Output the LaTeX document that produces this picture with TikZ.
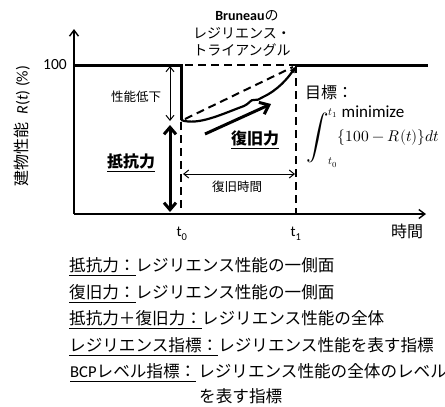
\documentclass[tikz,border=0pt]{standalone}
\usepackage{graphicx}
\usepackage{unicode-math}
\setmainfont{Noto Sans CJK JP}
\newfontfamily\latf{Carlito}
\usetikzlibrary{arrows.meta}
\begin{document}
\begin{tikzpicture}[x=1pt,y=-1pt,
  ax/.style={line width=1.4pt},
  thk/.style={line width=3pt},
  dsh/.style={line width=2pt, dash pattern=on 8pt off 5pt},
  lbl/.style={inner sep=0pt},
  bt/.style={anchor=west, inner sep=0pt, font=\fontsize{16.6}{20}\selectfont},
]
\useasboundingbox (0,0) rectangle (445,407);
% coordinates
\coordinate (O) at (74,214);
\coordinate (Ytop) at (74,29);
\coordinate (Xend) at (426,214);
\coordinate (A) at (74,65);
\coordinate (B) at (181,65);
\coordinate (C) at (181,120);
\coordinate (D) at (296,65);
\coordinate (E) at (428,65);
\coordinate (Dt) at (185,65);
\coordinate (D1) at (296,213);
\coordinate (C1) at (181,122);
\coordinate (C2) at (181,213);
\coordinate (G1) at (185,119);
\coordinate (G2) at (293,67);
\coordinate (R1) at (205,134);
\coordinate (R2) at (271,104);
\coordinate (P1) at (170,66);
\coordinate (P2) at (170,121);
\coordinate (Q1) at (170,125);
\coordinate (Q2) at (170,212);
\coordinate (T1) at (183,174);
\coordinate (T2) at (295,174);
% axes
\draw[ax,-{Straight Barb[length=6pt,width=9pt]}] (O) -- (Ytop);
\draw[ax,-{Straight Barb[length=6pt,width=9pt]}] (O) -- (Xend);
% dashed triangle/rectangle
\draw[dsh] (Dt) -- (D);
\draw[dsh] (D) -- (D1);
\draw[dsh] (C1) -- (C2);
\draw[dsh] (G1) -- (G2);
% performance line
\draw[thk] (A) -- (B) -- (C);
\draw[thk] (D) -- (E);
\draw[line width=2.2pt,-{Latex[length=7pt,width=6pt]}] (C)
  .. controls (198,126) and (222,114) .. (244,106)
  .. controls (249,104) and (251,99) .. (254,100)
  .. controls (257,101) and (259,99) .. (263,97)
  .. controls (278,90) and (288,78) .. (296,66);
\draw[line width=3pt,-{Straight Barb[length=8pt,width=13pt]}] (R1) -- (R2);
% arrows
\draw[line width=1pt,{Straight Barb[length=5pt,width=8pt]}-{Straight Barb[length=5pt,width=8pt]}] (P1) -- (P2);
\draw[line width=3pt,{Straight Barb[length=7pt,width=12pt]}-{Straight Barb[length=7pt,width=12pt]}] (Q1) -- (Q2);
\draw[line width=1pt,{Straight Barb[length=5pt,width=8pt]}-{Straight Barb[length=5pt,width=8pt]}] (T1) -- (T2);
% labels
\node[lbl,anchor=east,font=\latf\fontsize{15.5}{18}\selectfont] (hundred) at (67,65) {100};
\node[lbl,rotate=90,font=\fontsize{16}{19}\selectfont] (ylab) at (22,126) {建物性能\hspace{0.5em}{\latf\textit{R}(\textit{t}) (\%)}};
\node[lbl,font=\latf\fontsize{15}{18}\selectfont] (t0) at (182,234) {t\textsubscript{0}};
\node[lbl,font=\latf\fontsize{15}{18}\selectfont] (t1) at (296,234) {t\textsubscript{1}};
\node[lbl,font=\fontsize{16}{19}\selectfont] (jikan) at (407,231) {時間};
\node[lbl,font=\fontsize{12.5}{15}\selectfont] (teika) at (136,97) {性能低下};
\node[lbl,font=\bfseries\fontsize{16}{19}\selectfont] (teikou) at (131,163) {\underline{抵抗力}};
\node[lbl,font=\bfseries\fontsize{16}{19}\selectfont] (fukkyu) at (255,140) {\underline{復旧力}};
\node[lbl,font=\fontsize{12.5}{15}\selectfont] (fjikan) at (237,187) {復旧時間};
\node[lbl,anchor=west,font=\fontsize{16}{19}\selectfont] (mokuhyo) at (305,92) {目標：};
\node[lbl,font=\latf\fontsize{17}{20}\selectfont] (minim) at (373,112) {minimize};
\node[lbl,anchor=west,font=\fontsize{15.5}{19}\selectfont] (integ) at (306,138) {$\mathop{\vcenter{\hbox{\scalebox{1.45}{$\displaystyle\int$}}}}\nolimits_{t_0}^{t_1}\{100-R(t)\}dt$};
\node[lbl,font=\fontsize{14}{17}\selectfont] (br1) at (247,16) {{\latf\bfseries Bruneau}の};
\node[lbl,font=\fontsize{14}{17}\selectfont] (br2) at (242,33) {レジリエンス・};
\node[lbl,font=\fontsize{14}{17}\selectfont] (br3) at (242,50) {トライアングル};
% bottom text
\node[bt] (l1) at (69,267) {\underline{抵抗力：}レジリエンス性能の一側面};
\node[bt] (l2) at (69,294) {\underline{復旧力：}レジリエンス性能の一側面};
\node[bt] (l3) at (69,320) {\underline{抵抗力＋復旧力：}レジリエンス性能の全体};
\node[bt] (l4) at (69,347) {\underline{レジリエンス指標：}レジリエンス性能を表す指標};
\node[bt] (l5) at (70,373) {\underline{{\latf BCP}レベル指標：}\hspace{2pt}レジリエンス性能の全体のレベル};
\node[bt] (l6) at (199,396) {を表す指標};
\end{tikzpicture}
\end{document}
